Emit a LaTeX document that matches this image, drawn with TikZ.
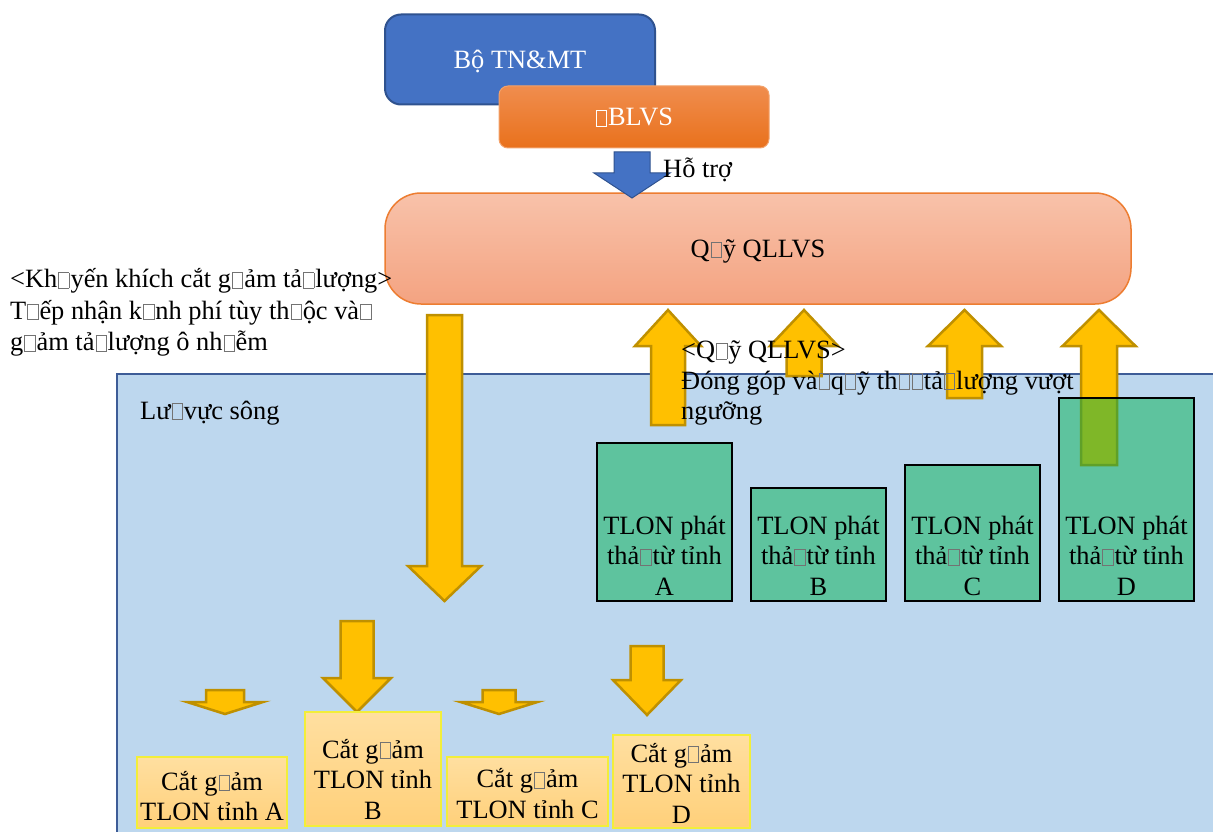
\documentclass[tikz,border=0pt]{standalone}
\usepackage{fontspec}
\setmainfont{Liberation Serif}
\usetikzlibrary{positioning}
\definecolor{tnblue}{HTML}{4472C4}
\definecolor{tnedge}{HTML}{2F528F}
\definecolor{dbtop}{HTML}{F08D4E}
\definecolor{dbbot}{HTML}{E9711C}
\definecolor{dbedge}{HTML}{F3A26B}
\definecolor{fundtop}{HTML}{F8C2AA}
\definecolor{fundbot}{HTML}{F4A381}
\definecolor{fundedge}{HTML}{ED7D31}
\definecolor{basinfill}{HTML}{BDD7EE}
\definecolor{basinedge}{HTML}{3D5C97}
\definecolor{yarrfill}{HTML}{FFC000}
\definecolor{yarredge}{HTML}{BF9000}
\definecolor{emitgreen}{HTML}{00B050}
\definecolor{cuttop}{HTML}{FFDFA0}
\definecolor{cutbot}{HTML}{FFD07A}
\definecolor{cutedge}{HTML}{F2EE3A}
% glyph that the font could not show
\newcommand{\nog}{\hbox{\kern0.04em\textcolor{.!55}{\fboxsep=0pt\fboxrule=0.03em\fbox{\rule{0pt}{0.56em}\hspace{0.36em}}}\kern0.04em}}
% block arrow: style, x, shaft end, head base, tip, half shaft, half head
\newcommand{\blockarr}[7]{\draw[#1] (#2-#6,#3) -- (#2+#6,#3) -- (#2+#6,#4) -- (#2+#7,#4) -- (#2,#5) -- (#2-#7,#4) -- (#2-#6,#4) -- cycle;}
\begin{document}
\begin{tikzpicture}[x=1pt,y=-1pt,
	every node/.style={font=\fontsize{26.4}{30.5}\selectfont, inner sep=0pt},
	capbox/.style={text height=17.5, text depth=0},
	topbox/.style={capbox, rounded corners=16, fill=tnblue, draw=tnedge, line width=2, text=white},
	dbbox/.style={capbox, rounded corners=9, top color=dbtop, bottom color=dbbot, draw=dbedge, line width=1, text=white},
	fundbox/.style={capbox, rounded corners=36, top color=fundtop, bottom color=fundbot, draw=fundedge, line width=1.5},
	basin/.style={fill=basinfill, draw=basinedge, line width=2.5},
	yarr/.style={fill=yarrfill, draw=yarredge, line width=2.5},
	barr/.style={fill=tnblue, draw=tnedge, line width=1},
	emitbox/.style={fill=emitgreen, fill opacity=0.5, draw=black, line width=1.2, minimum width=135},
	cutbox/.style={top color=cuttop, bottom color=cutbot, draw=cutedge, line width=2},
	lbl/.style={align=left},
	ctr/.style={align=center}]
	\clip (0,0) rectangle (1213,832);
	\fill[white] (0,0) rectangle (1213,832);
	% river basin
	\draw[basin] (117,374) rectangle (1260,880);
	\node[anchor=base west] (basinlbl) at (140,419) {Lư\nog vực sông};
	% top of the scheme
	\node[topbox, minimum width=270, minimum height=90] (bo) at (520,59.5) {Bộ TN\&MT};
	\node[dbbox, minimum width=270, minimum height=62] (dblvs) at (634,117) {\nog BLVS};
	\node[fundbox, minimum width=746, minimum height=111] (fund) at (758,248.5) {Q\nog ỹ QLLVS};
	\blockarr{barr}{632}{152}{173}{198}{18}{38}
	\node[anchor=base west] (hotro) at (663,177) {Hỗ trợ};
	\node[lbl, anchor=west, font=\fontsize{26.4}{31.5}\selectfont] (incent) at (10,312.5) {<Kh\nog yến khích cắt g\nog ảm tả\nog lượng>\\T\nog ếp nhận k\nog nh phí tùy th\nog ộc và\nog\\g\nog ảm tả\nog lượng ô nh\nog ễm};
	% yellow arrows
	\blockarr{yarr}{444.5}{315}{566}{601}{17.5}{36.5}
	\blockarr{yarr}{668}{425}{346}{310}{17}{33}
	\blockarr{yarr}{804}{376}{346}{310}{17.5}{34}
	\blockarr{yarr}{964.5}{398}{346}{310}{17.5}{36.5}
	\blockarr{yarr}{1099}{465}{346}{310}{18}{36.5}
	% emitters
	\node[emitbox, minimum height=158] (emA) at (664.5,522) {};
	\node[emitbox, minimum height=113] (emB) at (818.5,544.5) {};
	\node[emitbox, minimum height=136] (emC) at (972.5,533) {};
	\node[emitbox, minimum height=203] (emD) at (1126.5,499.5) {};
	\node[ctr] (emAt) at (664.5,555.5) {TLON phát\\thả\nog từ tỉnh\\A};
	\node[ctr] (emBt) at (818.5,555.5) {TLON phát\\thả\nog từ tỉnh\\B};
	\node[ctr] (emCt) at (972.5,555.5) {TLON phát\\thả\nog từ tỉnh\\C};
	\node[ctr] (emDt) at (1126.5,555.5) {TLON phát\\thả\nog từ tỉnh\\D};
	\node[lbl, anchor=west] (contrib) at (681,383) {<Q\nog ỹ QLLVS>\\Đóng góp và\nog q\nog ỹ th\nog\nog tả\nog lượng vượt\\ngưỡng};
	% cuts
	\blockarr{yarr}{225}{690}{702}{714}{19}{38}
	\blockarr{yarr}{357}{621}{678}{712}{16.5}{34}
	\blockarr{yarr}{499}{690}{702}{714}{16.5}{38.5}
	\blockarr{yarr}{647}{646}{680}{715}{16.5}{34}
	\node[cutbox, minimum width=150, minimum height=71] (cutA) at (212,792.5) {};
	\node[cutbox, minimum width=136, minimum height=114] (cutB) at (373,769) {};
	\node[cutbox, minimum width=161, minimum height=69] (cutC) at (527.5,791.5) {};
	\node[cutbox, minimum width=137, minimum height=93] (cutD) at (681.5,781.5) {};
	\node[ctr] (cutAt) at (212,796) {Cắt g\nog ảm\\TLON tỉnh A};
	\node[ctr] (cutBt) at (373,779) {Cắt g\nog ảm\\TLON tỉnh\\B};
	\node[ctr] (cutCt) at (527.5,793.5) {Cắt g\nog ảm\\TLON tỉnh C};
	\node[ctr] (cutDt) at (681.5,783) {Cắt g\nog ảm\\TLON tỉnh\\D};
\end{tikzpicture}
\end{document}
